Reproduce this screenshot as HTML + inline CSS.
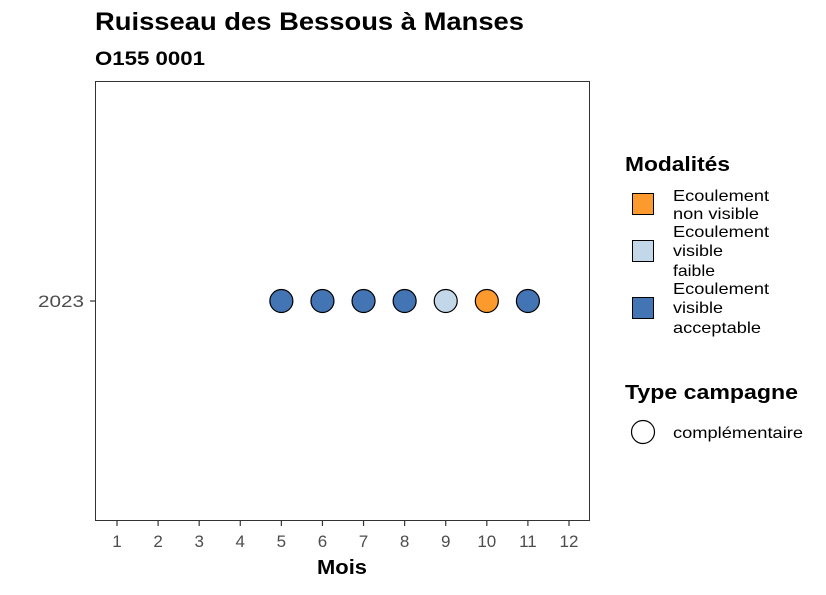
<!DOCTYPE html>
<html><head><meta charset="utf-8"><style>
body{margin:0;background:#fff;}
svg text{font-family:"Liberation Sans",sans-serif;}
</style></head><body>
<svg id="chart" width="826" height="590" xmlns="http://www.w3.org/2000/svg">
<text x="95" y="30" font-size="25" font-weight="bold" textLength="429" lengthAdjust="spacingAndGlyphs">Ruisseau des Bessous à Manses</text>
<text x="95" y="65" font-size="19" font-weight="bold" textLength="110" lengthAdjust="spacingAndGlyphs">O155 0001</text>
<rect x="95.5" y="81.5" width="494" height="439" fill="none" stroke="#333" stroke-width="1"/>
<g id="xaxis"></g>
<g id="yaxis"></g>
<g id="points"></g>
<text x="342" y="574" font-size="20" font-weight="bold" text-anchor="middle" textLength="50" lengthAdjust="spacingAndGlyphs">Mois</text>
<g>
<text x="625" y="171" font-size="20" font-weight="bold" textLength="105" lengthAdjust="spacingAndGlyphs">Modalités</text>
<g font-size="16">
<rect x="632.5" y="193.5" width="21" height="21" fill="#fd9a2d" stroke="#000"/>
<text x="673" y="201" textLength="96" lengthAdjust="spacingAndGlyphs">Ecoulement</text><text x="673" y="219" textLength="86" lengthAdjust="spacingAndGlyphs">non visible</text></g>
<g font-size="16">
<rect x="632.5" y="240.5" width="21" height="21" fill="#c2d8e9" stroke="#000"/>
<text x="673" y="237" textLength="96" lengthAdjust="spacingAndGlyphs">Ecoulement</text><text x="673" y="256" textLength="50" lengthAdjust="spacingAndGlyphs">visible</text><text x="673" y="276" textLength="42" lengthAdjust="spacingAndGlyphs">faible</text></g>
<g font-size="16">
<rect x="632.5" y="297.5" width="21" height="21" fill="#4374b3" stroke="#000"/>
<text x="673" y="294" textLength="96" lengthAdjust="spacingAndGlyphs">Ecoulement</text><text x="673" y="313" textLength="50" lengthAdjust="spacingAndGlyphs">visible</text><text x="673" y="333" textLength="88" lengthAdjust="spacingAndGlyphs">acceptable</text></g>
</g>
<g>
<text x="625" y="399" font-size="20" font-weight="bold" textLength="173" lengthAdjust="spacingAndGlyphs">Type campagne</text>
<circle cx="643" cy="432" r="11.5" fill="#fff" stroke="#000" stroke-width="1.2"/>
<text x="673" y="438" font-size="16" textLength="130" lengthAdjust="spacingAndGlyphs">complémentaire</text>
</g>
</svg>
<script>
const months=[1,2,3,4,5,6,7,8,9,10,11,12];
const years=["2023"];
const pointMonths=[5,6,7,8,9,10,11];
const pointYears=["2023","2023","2023","2023","2023","2023","2023"];
const pointModalites=["acceptable","acceptable","acceptable","acceptable","faible","non visible","acceptable"];
const colors={"acceptable":"#4374b3","faible":"#c2d8e9","non visible":"#fd9a2d"};
const NS="http://www.w3.org/2000/svg";
const x=m=>117+(m-1)*(569-117)/11;
const y=yr=>301+(years.indexOf(yr))*0;
function mk(t,a,p){const e=document.createElementNS(NS,t);for(const k in a)e.setAttribute(k,a[k]);p.appendChild(e);return e;}
const xa=document.getElementById('xaxis');
months.forEach(m=>{
 const l=mk('line',{x1:x(m),x2:x(m),y1:521,y2:526,stroke:'#333','stroke-width':1.2},xa);
 
 
 const t=mk('text',{x:x(m),y:547,'font-size':17,fill:'#4d4d4d','text-anchor':'middle'},xa);
 t.textContent=m;
 
 
});
const ya=document.getElementById('yaxis');
years.forEach(yr=>{
 const l=mk('line',{x1:90,x2:95,y1:y(yr),y2:y(yr),stroke:'#333','stroke-width':1.2},ya);
 
 
 const t=mk('text',{x:84,y:y(yr)+6,'font-size':17,fill:'#4d4d4d','text-anchor':'end',textLength:46,lengthAdjust:'spacingAndGlyphs'},ya);
 t.textContent=yr;
 
 
});
const pg=document.getElementById('points');
pointMonths.forEach((m,i)=>{
 const c=mk('circle',{cx:x(m),cy:y(pointYears[i]),r:11.5,fill:colors[pointModalites[i]],stroke:'#000','stroke-width':1.2},pg);
 
 
});
</script>
</body></html>
